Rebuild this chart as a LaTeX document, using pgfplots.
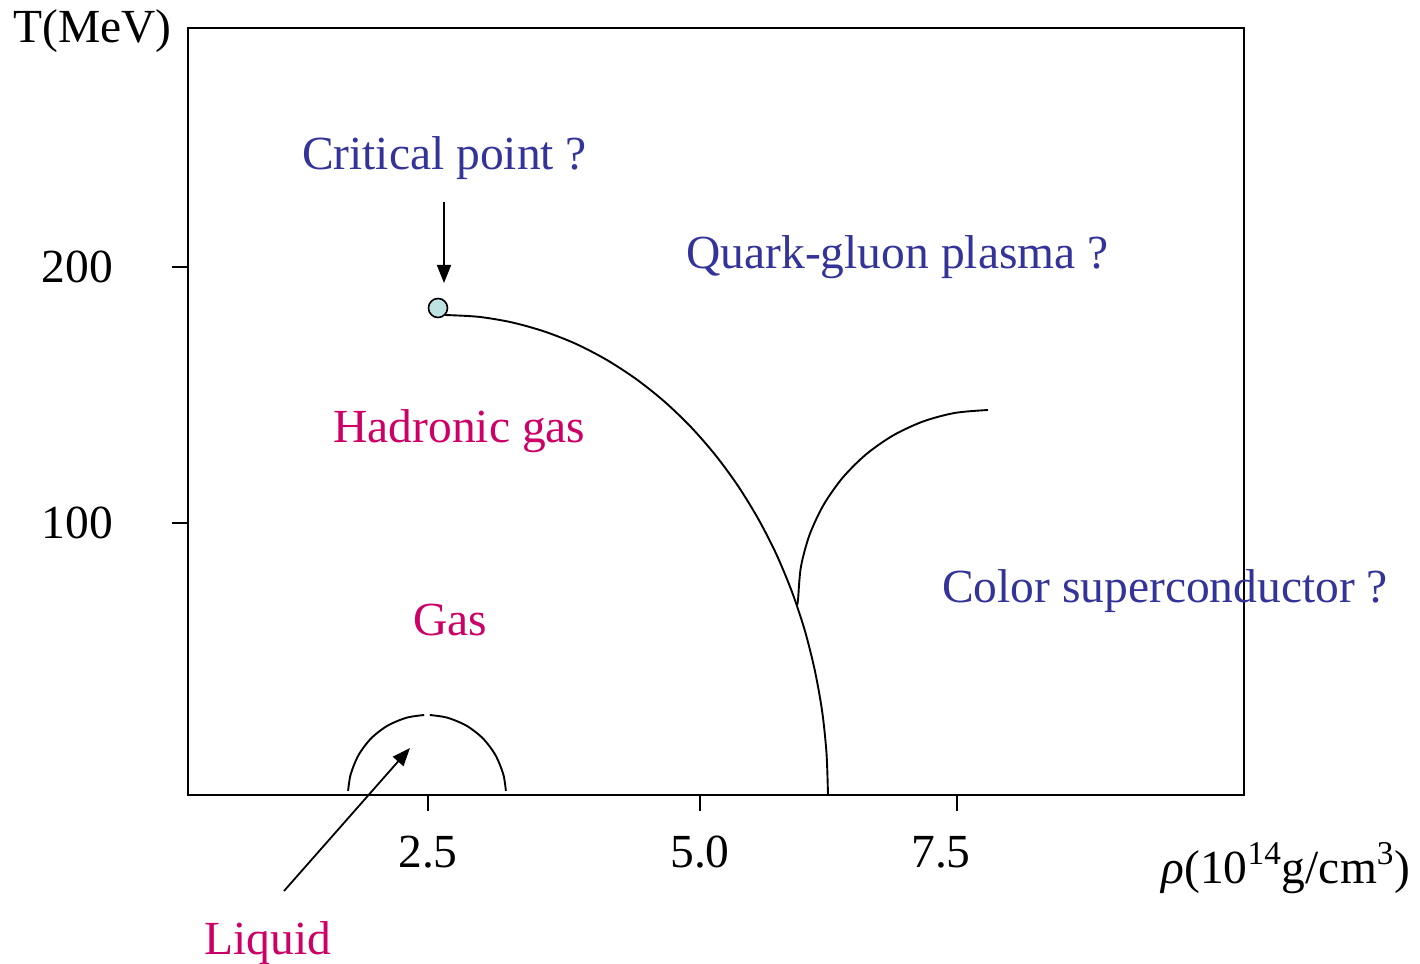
\documentclass[border=0pt]{standalone}
\usepackage{fontspec}
\setmainfont{Liberation Serif}
\usepackage{pgfplots}
\pgfplotsset{compat=1.18}
\usetikzlibrary{arrows.meta}
\definecolor{qblue}{RGB}{51,51,153}
\definecolor{hmag}{RGB}{204,0,102}
\definecolor{cpfill}{RGB}{190,226,226}
\newcommand{\lbl}{\fontsize{23.75}{28}\selectfont}
\begin{document}
\begin{tikzpicture}
\begin{axis}[name=ax, scale only axis, width=528pt, height=383.5pt,
  xmin=0, xmax=1056, ymin=0, ymax=767,
  axis line style={line width=1pt},
  xtick={240,512,769}, xticklabels={2.5,5.0,\hspace*{-16pt}7.5},
  ytick={272,528}, yticklabels={100,200},
  xtick pos=bottom, ytick pos=left,
  tick align=outside, major tick length=8pt,
  every tick/.style={black, line width=1pt},
  tick label style={font=\lbl},
  xticklabel style={yshift=-9pt},
  yticklabel style={xshift=-26pt},
  clip=false]
% main transition line
\addplot[black, line width=0.95pt, smooth] coordinates {
(257,480) (290.4,478.2) (323.5,472.7) (356.1,463.6) (388.0,451.1) (418.9,435.0)
(448.5,415.7) (476.7,393.2) (503.2,367.7) (527.8,339.4) (550.4,308.5) (570.7,275.3)
(588.7,240.0) (604.1,202.8) (616.9,164.2) (626.9,124.2) (634.2,83.3) (638.5,41.9) (640,0)};
% colour superconductor boundary
\addplot[black, line width=0.95pt, smooth] coordinates {
(609,190) (610,195) (612.9,228.0) (621.5,260.0) (635.5,290.0) (654.5,317.1) (677.9,340.5)
(705,359.5) (735.0,373.5) (767.0,382.1) (800,385)};
% liquid-gas dome, left and right halves
\addplot[black, line width=0.95pt, smooth] coordinates {
(160.1,4.2) (162.7,20.7) (170.6,40.0) (183.1,56.6) (199.5,69.3) (218.6,77.3) (236.2,80.0)};
\addplot[black, line width=0.95pt, smooth] coordinates {
(241.8,80.0) (259.4,77.3) (278.5,69.3) (294.9,56.6) (307.4,40.0) (315.3,20.7) (317.9,4.2)};
% critical point
\addplot[only marks, mark=*, mark size=4.75pt,
  mark options={fill=cpfill, draw=black, line width=0.8pt}] coordinates {(250,487)};
% arrows
\draw[-{Triangle[length=9pt,width=7pt]}, line width=0.9pt] (axis cs:256,593) -- (axis cs:256,512);
\draw[-{Triangle[length=9pt,width=7pt]}, line width=0.9pt] (axis cs:96,-96) -- (axis cs:222,47);
% labels
\node[qblue, font=\lbl, anchor=base, inner sep=0pt] at (axis cs:256.5,625) {Critical point ?};
\node[qblue, font=\lbl, anchor=base, inner sep=0pt] at (axis cs:709.5,526) {Quark-gluon plasma ?};
\node[hmag, font=\lbl, anchor=base, inner sep=0pt] at (axis cs:271.5,352) {Hadronic gas};
\node[hmag, font=\lbl, anchor=base, inner sep=0pt] at (axis cs:262,160) {Gas};
\node[qblue, font=\lbl, anchor=base, inner sep=0pt] at (axis cs:977,192) {Color superconductor ?};
\node[hmag, font=\lbl, anchor=base, inner sep=0pt] at (axis cs:80,-159) {Liquid};
\node[black, font=\lbl, anchor=base, inner sep=0pt] at (axis cs:-95.5,752) {T(MeV)};
\node[black, font=\lbl, anchor=base, inner sep=0pt] at (axis cs:1098,-88) {{\itshape ρ}(10\textsuperscript{14}g/cm\textsuperscript{3})};
\end{axis}
\pgfresetboundingbox
\path ([shift={(-94pt,-84.5pt)}]ax.south west) rectangle ([shift={(616pt,397.5pt)}]ax.south west);
\end{tikzpicture}
\end{document}
